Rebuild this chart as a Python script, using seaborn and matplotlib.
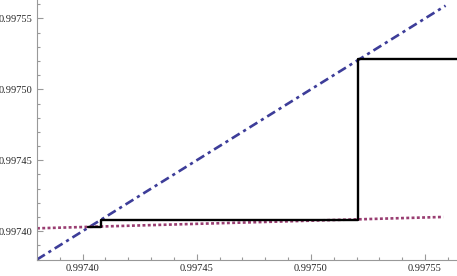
import numpy as np
import pandas as pd
import seaborn as sns
import matplotlib
matplotlib.use('Agg')
from matplotlib import pyplot as plt
from matplotlib.ticker import MultipleLocator, AutoMinorLocator, FormatStrFormatter

# 対角線 y = x
diag_x = [0.99738, 0.997559]
diag_y = [0.99738, 0.997559]

# ほぼ水平な点線
flat_x = [0.99738, 0.997558]
flat_y = [0.997402, 0.99741]

# 階段状の黒線
step_x = [0.9974023, 0.9974082, 0.9975207, 0.997564]
step_y = [0.997403, 0.9974082, 0.9975211, 0.9975211]

sns.set_style('white')
plt.rcParams['font.family'] = ['Liberation Serif', 'DejaVu Serif']

fig = plt.figure(figsize=(4.57, 2.76), dpi=100)
ax = fig.add_axes([37 / 457, 16.5 / 276, 420 / 457, 259.5 / 276])

sns.lineplot(x=diag_x, y=diag_y, ax=ax, color='#3d3d99', lw=1.9,
             dashes=False, linestyle=(0, (3.5, 1.6, 1.2, 1.6)))
sns.lineplot(x=flat_x, y=flat_y, ax=ax, color='#993d71', lw=1.9,
             linestyle=(0, (1.1, 0.9)))
sns.lineplot(x=step_x, y=step_y, ax=ax, color='black', lw=1.7,
             drawstyle='steps-post')

ax.set_xlim(0.99738, 0.997564)
ax.set_ylim(0.99738, 0.997563)

for a in (ax.xaxis, ax.yaxis):
    a.set_major_locator(MultipleLocator(0.00005))
    a.set_minor_locator(AutoMinorLocator(5))
    a.set_major_formatter(FormatStrFormatter('%.5f'))

ax.tick_params(which='both', direction='in', color='#999999', width=0.8,
               labelsize=7.5, pad=3)
ax.tick_params(which='major', length=4)
ax.tick_params(which='minor', length=2.5)
ax.tick_params(axis='both', which='both', bottom=True, left=True)

for s in ['top', 'right']:
    ax.spines[s].set_visible(False)
for s in ['left', 'bottom']:
    ax.spines[s].set_color('#999999')
    ax.spines[s].set_linewidth(0.8)

ax.set_xlabel('')
ax.set_ylabel('')

fig.savefig('out.png', dpi=100)
